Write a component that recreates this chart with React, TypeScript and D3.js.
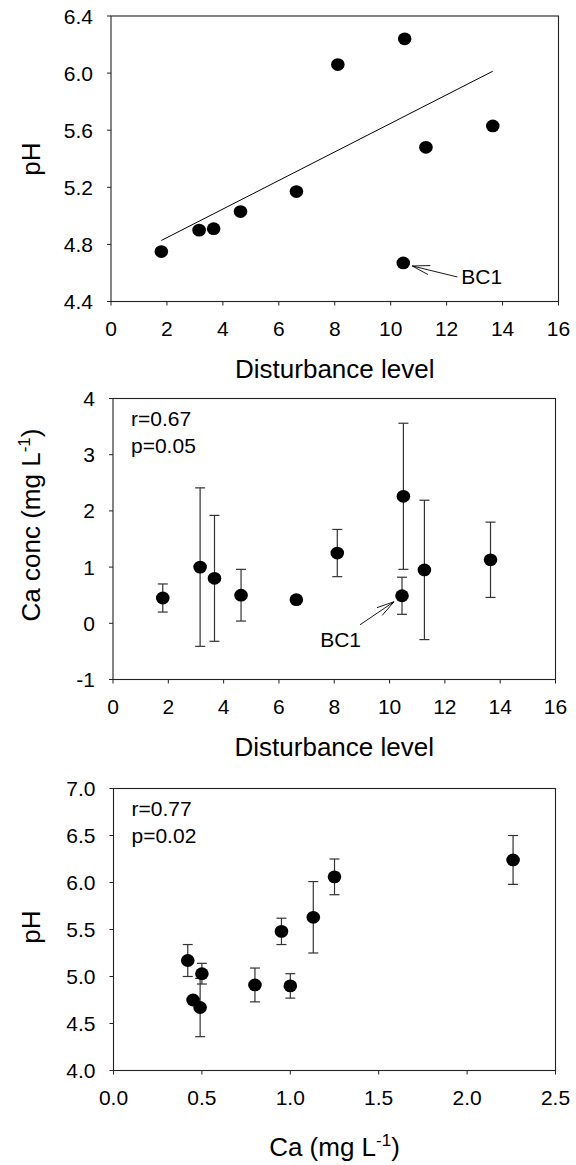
import React from "react";
import * as d3 from "d3";

// one entry per site; index 7 is BC1
const disturbance = [1.8, 3.15, 3.67, 4.63, 6.63, 8.11, 10.5, 10.45, 11.26, 13.65];
const pH = [4.75, 4.9, 4.91, 5.03, 5.17, 6.06, 6.24, 4.67, 5.48, 5.63];
const pHSd = [0.03, 0.13, 0.18, 0.11, 0.17, 0.19, 0.26, 0.31, 0.14, 0.38];
const ca = [0.45, 1.0, 0.8, 0.5, 0.42, 1.25, 2.26, 0.49, 0.95, 1.13];
const caSd = [0.25, 1.41, 1.12, 0.46, 0.05, 0.42, 1.3, 0.33, 1.24, 0.67];
const bc1 = 7;

const distTicks = [0, 2, 4, 6, 8, 10, 12, 14, 16];
const pHTicksTop = [4.4, 4.8, 5.2, 5.6, 6.0, 6.4];
const caTicks = [-1, 0, 1, 2, 3, 4];
const caXTicks = [0, 0.5, 1.0, 1.5, 2.0, 2.5];
const pHTicksBottom = [4.0, 4.5, 5.0, 5.5, 6.0, 6.5, 7.0];

const FONT = '"Liberation Sans", Arial, Helvetica, sans-serif';
const AXIS = "#222";
const BAR = "#333";

type Pt = { x: number; y: number; e?: number };

// least squares line, BC1 left out
function fit(xs: number[], ys: number[]) {
  const mx = d3.mean(xs)!;
  const my = d3.mean(ys)!;
  let sxy = 0;
  let sxx = 0;
  xs.forEach((x, i) => {
    sxy += (x - mx) * (ys[i] - my);
    sxx += (x - mx) * (x - mx);
  });
  const b = sxy / sxx;
  return { a: my - b * mx, b };
}

function Arrow({ tip, tail }: { tip: [number, number]; tail: [number, number] }) {
  const ang = Math.atan2(tail[1] - tip[1], tail[0] - tip[0]);
  const len = 18;
  const w = (15 * Math.PI) / 180;
  const wing = (s: number) => [tip[0] + len * Math.cos(ang + s * w), tip[1] + len * Math.sin(ang + s * w)];
  const [x1, y1] = wing(1);
  const [x2, y2] = wing(-1);
  return (
    <g stroke="#000" strokeWidth={0.9} fill="none">
      <line x1={tail[0]} y1={tail[1]} x2={tip[0]} y2={tip[1]} />
      <line x1={tip[0]} y1={tip[1]} x2={x1} y2={y1} />
      <line x1={tip[0]} y1={tip[1]} x2={x2} y2={y2} />
    </g>
  );
}

type PanelProps = {
  box: { left: number; right: number; top: number; bottom: number };
  xDomain: [number, number];
  yDomain: [number, number];
  xTicks: number[];
  yTicks: number[];
  xFmt: (d: number) => string;
  yFmt: (d: number) => string;
  points: Pt[];
  line?: { a: number; b: number; x0: number; x1: number };
  stats?: string[];
  label?: { index: number; side: "right" | "left" };
  xTitle: React.ReactNode;
  xTitleGap: number;
  yTitle: React.ReactNode;
  yTitleY: number;
};

function Panel(p: PanelProps) {
  const { box } = p;
  const x = d3.scaleLinear().domain(p.xDomain).range([box.left, box.right]);
  const y = d3.scaleLinear().domain(p.yDomain).range([box.bottom, box.top]);
  const cx = (box.left + box.right) / 2;
  const lp = p.label ? p.points[p.label.index] : null;
  return (
    <g fontFamily={FONT}>
      <rect
        x={box.left}
        y={box.top}
        width={box.right - box.left}
        height={box.bottom - box.top}
        fill="none"
        stroke={AXIS}
        strokeWidth={1.1}
      />
      {p.xTicks.map((t) => (
        <g key={"x" + t}>
          <line x1={x(t)} x2={x(t)} y1={box.bottom} y2={box.bottom + 4} stroke={AXIS} />
          <text x={x(t)} y={box.bottom + 34} fontSize={21} textAnchor="middle">
            {p.xFmt(t)}
          </text>
        </g>
      ))}
      {p.yTicks.map((t) => (
        <g key={"y" + t}>
          <line x1={box.left - 4} x2={box.left} y1={y(t)} y2={y(t)} stroke={AXIS} />
          <text x={box.left - 18} y={y(t)} dy="0.36em" fontSize={21} textAnchor="end">
            {p.yFmt(t)}
          </text>
        </g>
      ))}
      {p.line && (
        <line
          x1={x(p.line.x0)}
          y1={y(p.line.a + p.line.b * p.line.x0)}
          x2={x(p.line.x1)}
          y2={y(p.line.a + p.line.b * p.line.x1)}
          stroke="#000"
          strokeWidth={1}
        />
      )}
      {p.points.map((d, i) =>
        d.e ? (
          <g key={"e" + i} stroke={BAR} strokeWidth={1.2}>
            <line x1={x(d.x)} x2={x(d.x)} y1={y(d.y - d.e)} y2={y(d.y + d.e)} />
            <line x1={x(d.x) - 5} x2={x(d.x) + 5} y1={y(d.y + d.e)} y2={y(d.y + d.e)} />
            <line x1={x(d.x) - 5} x2={x(d.x) + 5} y1={y(d.y - d.e)} y2={y(d.y - d.e)} />
          </g>
        ) : null
      )}
      {p.points.map((d, i) => (
        <ellipse key={"p" + i} cx={x(d.x)} cy={y(d.y)} rx={6.8} ry={6.4} fill="#000" />
      ))}
      {p.stats &&
        p.stats.map((s, i) => (
          <text key={s} x={box.left + 18} y={box.top + 27 + i * 27} fontSize={21}>
            {s}
          </text>
        ))}
      {lp && p.label!.side === "right" && (
        <g>
          <Arrow tip={[x(lp.x) + 9, y(lp.y) + 3]} tail={[x(lp.x) + 54, y(lp.y) + 14]} />
          <text x={x(lp.x) + 58} y={y(lp.y) + 21} fontSize={21}>
            BC1
          </text>
        </g>
      )}
      {lp && p.label!.side === "left" && (
        <g>
          <Arrow tip={[x(lp.x) - 8, y(lp.y) + 6]} tail={[x(lp.x) - 42, y(lp.y) + 29]} />
          <text x={x(lp.x) - 41} y={y(lp.y) + 51} fontSize={21} textAnchor="end">
            BC1
          </text>
        </g>
      )}
      <text x={cx} y={box.bottom + p.xTitleGap} fontSize={26} textAnchor="middle">
        {p.xTitle}
      </text>
      <text
        transform={`translate(31,${p.yTitleY}) rotate(-90)`}
        dy="0.36em"
        fontSize={26}
        textAnchor="middle"
      >
        {p.yTitle}
      </text>
    </g>
  );
}

const Sup = ({ base, sup, tail }: { base: string; sup: string; tail: string }) => (
  <>
    {base}
    <tspan dy={-10} fontSize={17}>
      {sup}
    </tspan>
    <tspan dy={10}>{tail}</tspan>
  </>
);

export default function App() {
  const keep = disturbance.map((_, i) => i).filter((i) => i !== bc1);
  const xs = keep.map((i) => disturbance[i]);
  const reg = fit(xs, keep.map((i) => pH[i]));
  const f1 = d3.format(".1f");
  const plain = (d: number) => String(d);

  const top: Pt[] = disturbance.map((d, i) => ({ x: d, y: pH[i] }));
  const mid: Pt[] = disturbance.map((d, i) => ({ x: d, y: ca[i], e: caSd[i] }));
  const bot: Pt[] = ca.map((c, i) => ({ x: c, y: pH[i], e: pHSd[i] }));

  return (
    <svg
      width={576}
      height={1165}
      style={{ position: "absolute", left: 0, top: 0, background: "#fff" }}
    >
      <Panel
        box={{ left: 111, right: 558.5, top: 16, bottom: 301.5 }}
        xDomain={[0, 16]}
        yDomain={[4.4, 6.4]}
        xTicks={distTicks}
        yTicks={pHTicksTop}
        xFmt={plain}
        yFmt={f1}
        points={top}
        line={{ ...reg, x0: d3.min(xs)!, x1: d3.max(xs)! }}
        label={{ index: bc1, side: "right" }}
        xTitle="Disturbance level"
        xTitleGap={76}
        yTitle="pH"
        yTitleY={159}
      />
      <Panel
        box={{ left: 113, right: 555.5, top: 398.5, bottom: 679.5 }}
        xDomain={[0, 16]}
        yDomain={[-1, 4]}
        xTicks={distTicks}
        yTicks={caTicks}
        xFmt={plain}
        yFmt={plain}
        points={mid}
        stats={["r=0.67", "p=0.05"]}
        label={{ index: bc1, side: "left" }}
        xTitle="Disturbance level"
        xTitleGap={76}
        yTitle={<Sup base="Ca conc (mg L" sup="-1" tail=")" />}
        yTitleY={525}
      />
      <Panel
        box={{ left: 113.5, right: 555.5, top: 788.5, bottom: 1070.5 }}
        xDomain={[0, 2.5]}
        yDomain={[4, 7]}
        xTicks={caXTicks}
        yTicks={pHTicksBottom}
        xFmt={f1}
        yFmt={f1}
        points={bot}
        stats={["r=0.77", "p=0.02"]}
        xTitle={<Sup base="Ca (mg L" sup="-1" tail=")" />}
        xTitleGap={85}
        yTitle="pH"
        yTitleY={927}
      />
    </svg>
  );
}
